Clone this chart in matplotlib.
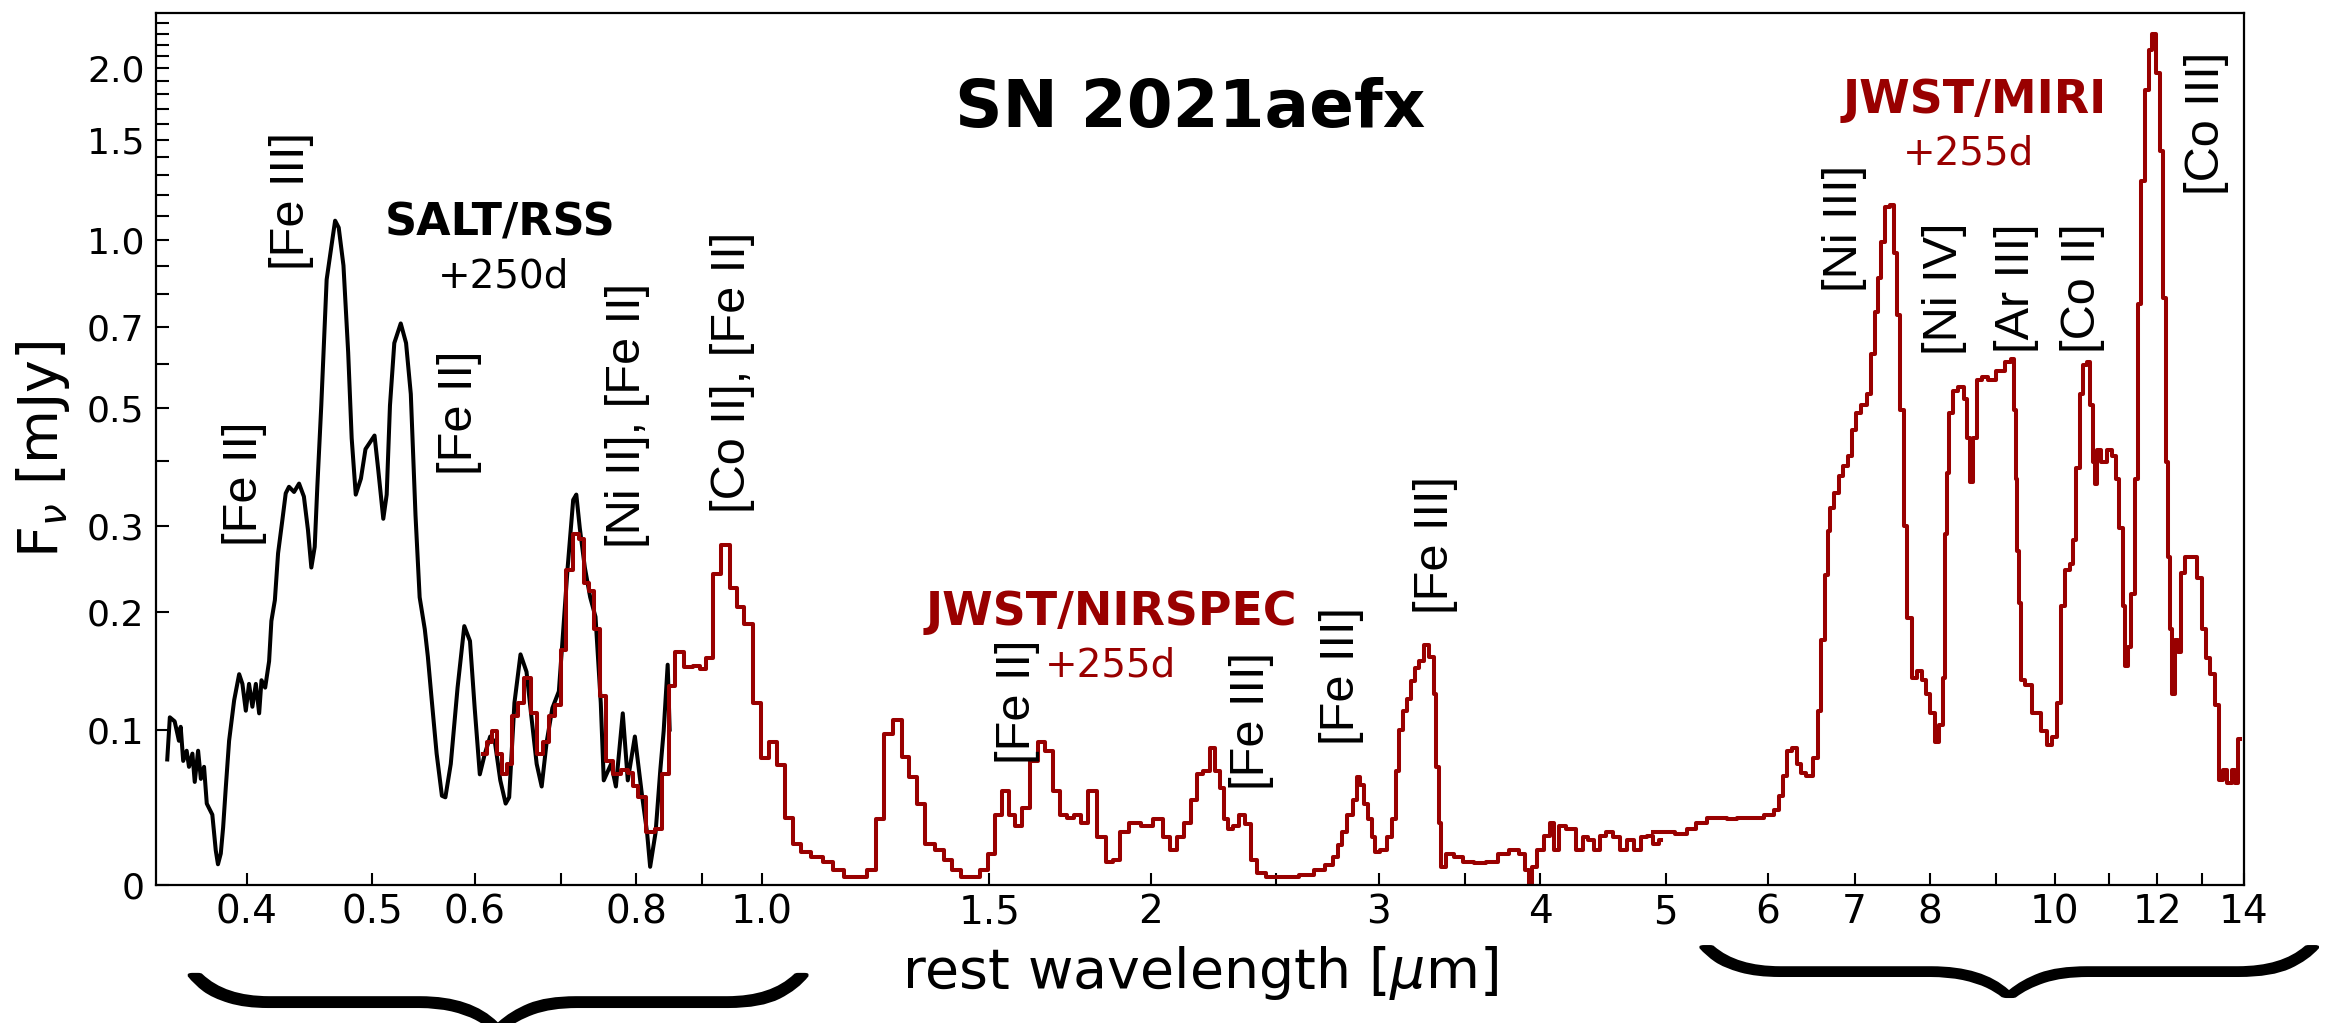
import numpy as np
import matplotlib
matplotlib.use('Agg')
import matplotlib.pyplot as plt
from matplotlib.ticker import NullLocator, NullFormatter
from matplotlib.textpath import TextPath
from matplotlib.patches import PathPatch
from matplotlib.path import Path
from matplotlib.font_manager import FontProperties

RED = '#990000'

# SALT/RSS optical spectrum, +250d  (wavelength in micron, flux in mJy)
salt_wl = [0.3471, 0.3487, 0.3517, 0.3544, 0.3555, 0.3571, 0.3593, 0.3608, 0.3630, 0.3645,
           0.3667, 0.3685, 0.3706, 0.3724, 0.3761, 0.3784, 0.3799, 0.3818, 0.3834, 0.3852,
           0.3875, 0.3910, 0.3945, 0.3968, 0.3992, 0.4015, 0.4039, 0.4064, 0.4088, 0.4105,
           0.4132, 0.4161, 0.4178, 0.4204, 0.4228, 0.4261, 0.4286, 0.4311, 0.4350, 0.4389,
           0.4427, 0.4459, 0.4486, 0.4513, 0.4534, 0.4566, 0.461, 0.466, 0.468, 0.471,
           0.475, 0.479, 0.482, 0.4855, 0.490, 0.494, 0.502, 0.5053, 0.5099, 0.513,
           0.516, 0.520, 0.526, 0.531, 0.5355, 0.540, 0.544, 0.549, 0.552, 0.5555,
           0.5607, 0.566, 0.5695, 0.575, 0.582, 0.589, 0.595, 0.600, 0.6055, 0.611,
           0.6168, 0.622, 0.628, 0.634, 0.638, 0.644, 0.651, 0.658, 0.664, 0.670,
           0.676, 0.682, 0.689, 0.697, 0.7015, 0.708, 0.715, 0.719, 0.7235, 0.730,
           0.737, 0.744, 0.751, 0.755, 0.765, 0.7715, 0.781, 0.788, 0.798, 0.808,
           0.8155, 0.820, 0.828, 0.835, 0.840, 0.846, 0.849]
salt_flux = [0.079, 0.109, 0.106, 0.092, 0.102, 0.078, 0.085, 0.074, 0.083, 0.064,
             0.085, 0.066, 0.074, 0.050, 0.043, 0.021, 0.0125, 0.019, 0.035, 0.060,
             0.092, 0.122, 0.143, 0.135, 0.114, 0.135, 0.117, 0.135, 0.112, 0.138,
             0.132, 0.154, 0.191, 0.212, 0.265, 0.309, 0.347, 0.357, 0.349, 0.362,
             0.342, 0.295, 0.248, 0.273, 0.357, 0.505, 0.850, 1.010, 1.080, 1.050,
             0.900, 0.630, 0.440, 0.345, 0.370, 0.420, 0.445, 0.385, 0.310, 0.345,
             0.505, 0.655, 0.710, 0.655, 0.530, 0.315, 0.215, 0.183, 0.158, 0.125,
             0.083, 0.055, 0.054, 0.076, 0.132, 0.186, 0.172, 0.116, 0.069, 0.083,
             0.095, 0.091, 0.065, 0.050, 0.054, 0.120, 0.160, 0.145, 0.108, 0.076,
             0.061, 0.091, 0.116, 0.129, 0.172, 0.248, 0.337, 0.345, 0.297, 0.248,
             0.215, 0.195, 0.120, 0.065, 0.076, 0.061, 0.112, 0.065, 0.095, 0.056,
             0.032, 0.011, 0.032, 0.072, 0.099, 0.151, 0.100]

# JWST/NIRSpec, +255d (binned)
nir_wl = [0.6092, 0.6166, 0.6216, 0.6266, 0.6324, 0.6390, 0.6445, 0.6510, 0.6594, 0.6668,
          0.6733, 0.6816, 0.6887, 0.6959, 0.7032, 0.7097, 0.7190, 0.7257, 0.7315, 0.7392,
          0.7460, 0.7538, 0.7631, 0.7725, 0.7834, 0.7918, 0.7980, 0.8070, 0.8203, 0.8330,
          0.8427, 0.8527, 0.8628, 0.8781, 0.8904, 0.9013, 0.9108, 0.9221, 0.9381, 0.9508,
          0.9625, 0.9774, 0.9925, 1.0066, 1.0202, 1.0349, 1.0489, 1.0651, 1.0815, 1.1037,
          1.1257, 1.1466, 1.1698, 1.1953, 1.2175, 1.2340, 1.2531, 1.2747, 1.2921, 1.3080,
          1.3284, 1.3490, 1.3722, 1.3935, 1.4125, 1.4387, 1.4655, 1.4865, 1.5047, 1.5250,
          1.5440, 1.5611, 1.5803, 1.6019, 1.6247, 1.6446, 1.6671, 1.6907, 1.7115, 1.7329,
          1.7539, 1.7756, 1.8030, 1.8332, 1.8590, 1.8818, 1.9053, 1.9405, 1.9888, 2.0281,
          2.0570, 2.0826, 2.1082, 2.1341, 2.1604, 2.1832, 2.2075, 2.2342, 2.2508, 2.2689,
          2.2826, 2.3037, 2.3281, 2.3496, 2.3755, 2.4005, 2.4272, 2.4798, 2.5570, 2.6450,
          2.7023, 2.7525, 2.7812, 2.8037, 2.8211, 2.8505, 2.8768, 2.8908, 2.9122, 2.9351,
          2.9532, 2.9717, 2.9900, 3.0269, 3.0641, 3.0830, 3.1001, 3.1191, 3.1442, 3.1697,
          3.1893, 3.2129, 3.2386, 3.2685, 3.2987, 3.3169, 3.3311, 3.3452, 3.3600, 3.4011,
          3.4534, 3.5180, 3.5947, 3.6678, 3.7454, 3.8222, 3.8765, 3.9052, 3.9292, 3.9535,
          3.9946, 4.0515, 4.0890, 4.1140, 4.1520, 4.2290, 4.2940, 4.3340, 4.3740, 4.4280,
          4.4690, 4.5240, 4.5800, 4.6360, 4.6940, 4.7520, 4.8110, 4.8550, 4.9150, 4.9610]
nir_flux = [0.083, 0.091, 0.099, 0.083, 0.069, 0.076, 0.110, 0.120, 0.140, 0.112,
            0.083, 0.091, 0.110, 0.118, 0.164, 0.245, 0.290, 0.283, 0.230, 0.222,
            0.183, 0.125, 0.078, 0.069, 0.072, 0.070, 0.061, 0.054, 0.032, 0.034,
            0.069, 0.133, 0.162, 0.149, 0.150, 0.147, 0.157, 0.240, 0.275, 0.225,
            0.205, 0.188, 0.120, 0.080, 0.091, 0.075, 0.041, 0.025, 0.020, 0.017,
            0.014, 0.009, 0.005, 0.005, 0.009, 0.040, 0.097, 0.107, 0.081, 0.067,
            0.050, 0.025, 0.021, 0.015, 0.009, 0.005, 0.005, 0.009, 0.019, 0.043,
            0.058, 0.043, 0.036, 0.047, 0.078, 0.091, 0.085, 0.058, 0.043, 0.041,
            0.043, 0.038, 0.058, 0.029, 0.014, 0.015, 0.032, 0.038, 0.036, 0.040,
            0.029, 0.021, 0.029, 0.038, 0.052, 0.069, 0.071, 0.087, 0.071, 0.060,
            0.040, 0.034, 0.036, 0.043, 0.037, 0.015, 0.007, 0.005, 0.005, 0.006,
            0.009, 0.012, 0.017, 0.024, 0.032, 0.043, 0.052, 0.067, 0.062, 0.050,
            0.040, 0.029, 0.020, 0.021, 0.029, 0.040, 0.071, 0.100, 0.114, 0.123,
            0.137, 0.148, 0.154, 0.168, 0.158, 0.127, 0.074, 0.038, 0.011, 0.019,
            0.017, 0.014, 0.013, 0.014, 0.019, 0.021, 0.019, 0.009, 0.000, 0.011,
            0.021, 0.030, 0.038, 0.021, 0.036, 0.034, 0.021, 0.029, 0.027, 0.021,
            0.030, 0.032, 0.029, 0.021, 0.027, 0.021, 0.029, 0.030, 0.025, 0.027]

# JWST/MIRI, +255d
miri_wl = [4.890, 5.020, 5.145, 5.240, 5.320, 5.440, 5.537, 5.622, 5.727, 5.888,
           6.034, 6.097, 6.146, 6.184, 6.229, 6.287, 6.338, 6.385, 6.463, 6.535,
           6.576, 6.615, 6.656, 6.684, 6.726, 6.780, 6.830, 6.894, 6.948, 6.991,
           7.042, 7.121, 7.187, 7.230, 7.275, 7.320, 7.364, 7.419, 7.478, 7.525,
           7.571, 7.618, 7.665, 7.711, 7.782, 7.864, 7.927, 7.976, 8.035, 8.109,
           8.173, 8.208, 8.233, 8.268, 8.304, 8.376, 8.464, 8.532, 8.568, 8.616,
           8.670, 8.728, 8.826, 8.935, 9.073, 9.213, 9.281, 9.309, 9.338, 9.367,
           9.396, 9.424, 9.528, 9.687, 9.806, 9.897, 9.989, 10.07, 10.13, 10.23,
           10.30, 10.35, 10.42, 10.48, 10.55, 10.61, 10.67, 10.72, 10.76, 10.81,
           10.91, 11.02, 11.11, 11.18, 11.25, 11.31, 11.36, 11.42, 11.49, 11.56,
           11.63, 11.70, 11.78, 11.85, 11.93, 12.02, 12.09, 12.16, 12.21, 12.25,
           12.30, 12.35, 12.41, 12.48, 12.56, 12.67, 12.82, 12.94, 13.03, 13.13,
           13.24, 13.35, 13.44, 13.54, 13.65, 13.74, 13.82, 13.90]
miri_flux = [0.032, 0.032, 0.031, 0.034, 0.038, 0.041, 0.041, 0.040, 0.041, 0.041,
             0.043, 0.046, 0.055, 0.068, 0.085, 0.087, 0.076, 0.070, 0.068, 0.080,
             0.114, 0.173, 0.239, 0.293, 0.325, 0.348, 0.374, 0.390, 0.408, 0.456,
             0.489, 0.507, 0.531, 0.626, 0.744, 0.854, 0.990, 1.140, 1.150, 0.946,
             0.735, 0.495, 0.300, 0.194, 0.140, 0.146, 0.138, 0.127, 0.112, 0.091,
             0.103, 0.140, 0.290, 0.379, 0.489, 0.537, 0.546, 0.519, 0.440, 0.365,
             0.440, 0.563, 0.570, 0.563, 0.583, 0.605, 0.612, 0.495, 0.370, 0.268,
             0.209, 0.138, 0.134, 0.112, 0.099, 0.089, 0.095, 0.120, 0.206, 0.245,
             0.252, 0.282, 0.388, 0.531, 0.597, 0.605, 0.507, 0.398, 0.361, 0.418,
             0.398, 0.418, 0.408, 0.370, 0.297, 0.206, 0.150, 0.167, 0.218, 0.370,
             0.770, 1.270, 1.830, 2.150, 2.300, 1.960, 1.430, 0.788, 0.398, 0.261,
             0.183, 0.127, 0.173, 0.162, 0.242, 0.261, 0.261, 0.236, 0.183, 0.157,
             0.143, 0.118, 0.065, 0.072, 0.063, 0.072, 0.063, 0.093]

# line identifications: label, wavelength, flux at the foot of the label
line_ids = ['[Fe II]', '[Fe III]', '[Fe II]', '[Ni II], [Fe II]', '[Co II], [Fe II]',
            '[Fe II]', '[Fe III]', '[Fe III]', '[Fe III]',
            '[Ni III]', '[Ni IV]', '[Ar III]', '[Co II]', '[Co III]']
line_wl = [0.398, 0.433, 0.584, 0.788, 0.950,
           1.577, 2.39, 2.81, 3.32,
           6.88, 8.21, 9.33, 10.51, 13.09]
line_flux = [0.274, 0.884, 0.376, 0.271, 0.318,
             0.076, 0.059, 0.089, 0.198,
             0.808, 0.623, 0.629, 0.629, 1.20]

xticks = [0.4, 0.5, 0.6, 0.7, 0.8, 0.9, 1.0, 1.5, 2, 2.5, 3, 3.5, 4, 5, 6, 7, 8, 9, 10, 11, 12, 13, 14]
xticklabels = ['0.4', '0.5', '0.6', '', '0.8', '', '1.0', '1.5', '2', '', '3', '', '4',
               '5', '6', '7', '8', '', '10', '', '12', '', '14']
yticks = [0, 0.1, 0.2, 0.3, 0.5, 0.7, 1.0, 1.5, 2.0]
yticklabels = ['0', '0.1', '0.2', '0.3', '0.5', '0.7', '1.0', '1.5', '2.0']
yminor = [0.4, 0.6, 0.8, 0.9, 1.1, 1.2, 1.3, 1.4, 1.6, 1.7, 1.8, 1.9, 2.1, 2.2, 2.3, 2.4]


fig = plt.figure(figsize=(23.37, 10.23), dpi=100)
ax = fig.add_axes([0.0666, 0.1349, 0.8936, 0.8524])

ax.plot(salt_wl, salt_flux, color='black', lw=2.9)
ax.plot(nir_wl, nir_flux, color=RED, lw=2.9, drawstyle='steps-mid')
ax.plot(miri_wl, miri_flux, color=RED, lw=2.9, drawstyle='steps-mid')

ax.set_xscale('log')
ax.set_yscale('asinh', linear_width=0.15)
ax.set_xlim(0.34, 14.0)
ax.set_ylim(0, 2.5)

ax.set_xticks(xticks, xticklabels)
ax.xaxis.set_minor_locator(NullLocator())
ax.set_yticks(yticks, yticklabels)
ax.set_yticks(yminor, minor=True)
ax.yaxis.set_minor_formatter(NullFormatter())
ax.tick_params(axis='both', which='both', direction='in', length=9, width=1.5)
ax.tick_params(axis='x', labelsize=28, pad=6)
ax.tick_params(axis='y', labelsize=26, pad=8)
for sp in ax.spines.values():
    sp.set_linewidth(1.6)

ax.set_xlabel(r'rest wavelength [$\mu$m]', fontsize=40)
ax.xaxis.set_label_coords(0.5, -0.068)
ax.set_ylabel(r'F$_\nu$ [mJy]', fontsize=40)
ax.yaxis.set_label_coords(-0.040, 0.5)

for name, wl, fl in zip(line_ids, line_wl, line_flux):
    ax.text(wl, fl, name, rotation=90, ha='center', va='bottom',
            fontsize=35, family='Liberation Sans')

ax.text(0.4955, 0.89, 'SN 2021aefx', transform=ax.transAxes,
        fontsize=47.5, fontweight='bold', ha='center', va='center')
ax.text(0.628, 1.07, 'SALT/RSS', fontsize=32, fontweight='bold', ha='center', va='center')
ax.text(0.632, 0.86, '+250d', fontsize=28, ha='center', va='center')
ax.text(1.864, 0.1995, 'JWST/NIRSPEC', color=RED, fontsize=33, fontweight='bold',
        ha='center', va='center')
ax.text(1.861, 0.150, '+255d', color=RED, fontsize=28, ha='center', va='center')
ax.text(8.667, 1.76, 'JWST/MIRI', color=RED, fontsize=33, fontweight='bold',
        ha='center', va='center')
ax.text(8.57, 1.42, '+255d', color=RED, fontsize=28, ha='center', va='center')


def draw_brace(wl_lo, wl_hi, y_tip, y_cusp):
    # a curly brace glyph, turned so the cusp points down and stretched over wl_lo..wl_hi
    glyph = TextPath((0, 0), r'$\}$', size=10, prop=FontProperties(math_fontfamily='cm'))
    verts = glyph.vertices
    codes = glyph.codes
    rot = np.column_stack([verts[:, 1], -verts[:, 0]])
    real = codes != Path.CLOSEPOLY
    lo = rot[real].min(axis=0)
    hi = rot[real].max(axis=0)
    unit = (rot - lo) / (hi - lo)
    to_fig = fig.transFigure.inverted()
    x0 = to_fig.transform(ax.transData.transform((wl_lo, 0.1)))[0]
    x1 = to_fig.transform(ax.transData.transform((wl_hi, 0.1)))[0]
    xy = np.column_stack([x0 + unit[:, 0] * (x1 - x0),
                          y_cusp + unit[:, 1] * (y_tip - y_cusp)])
    fig.add_artist(PathPatch(Path(xy, codes), transform=fig.transFigure,
                             facecolor='black', edgecolor='none', clip_on=False))


draw_brace(0.36, 1.087, 0.049, -0.008)
draw_brace(5.31, 16.0, 0.0762, 0.0244)

fig.savefig('out.png', dpi=100)
